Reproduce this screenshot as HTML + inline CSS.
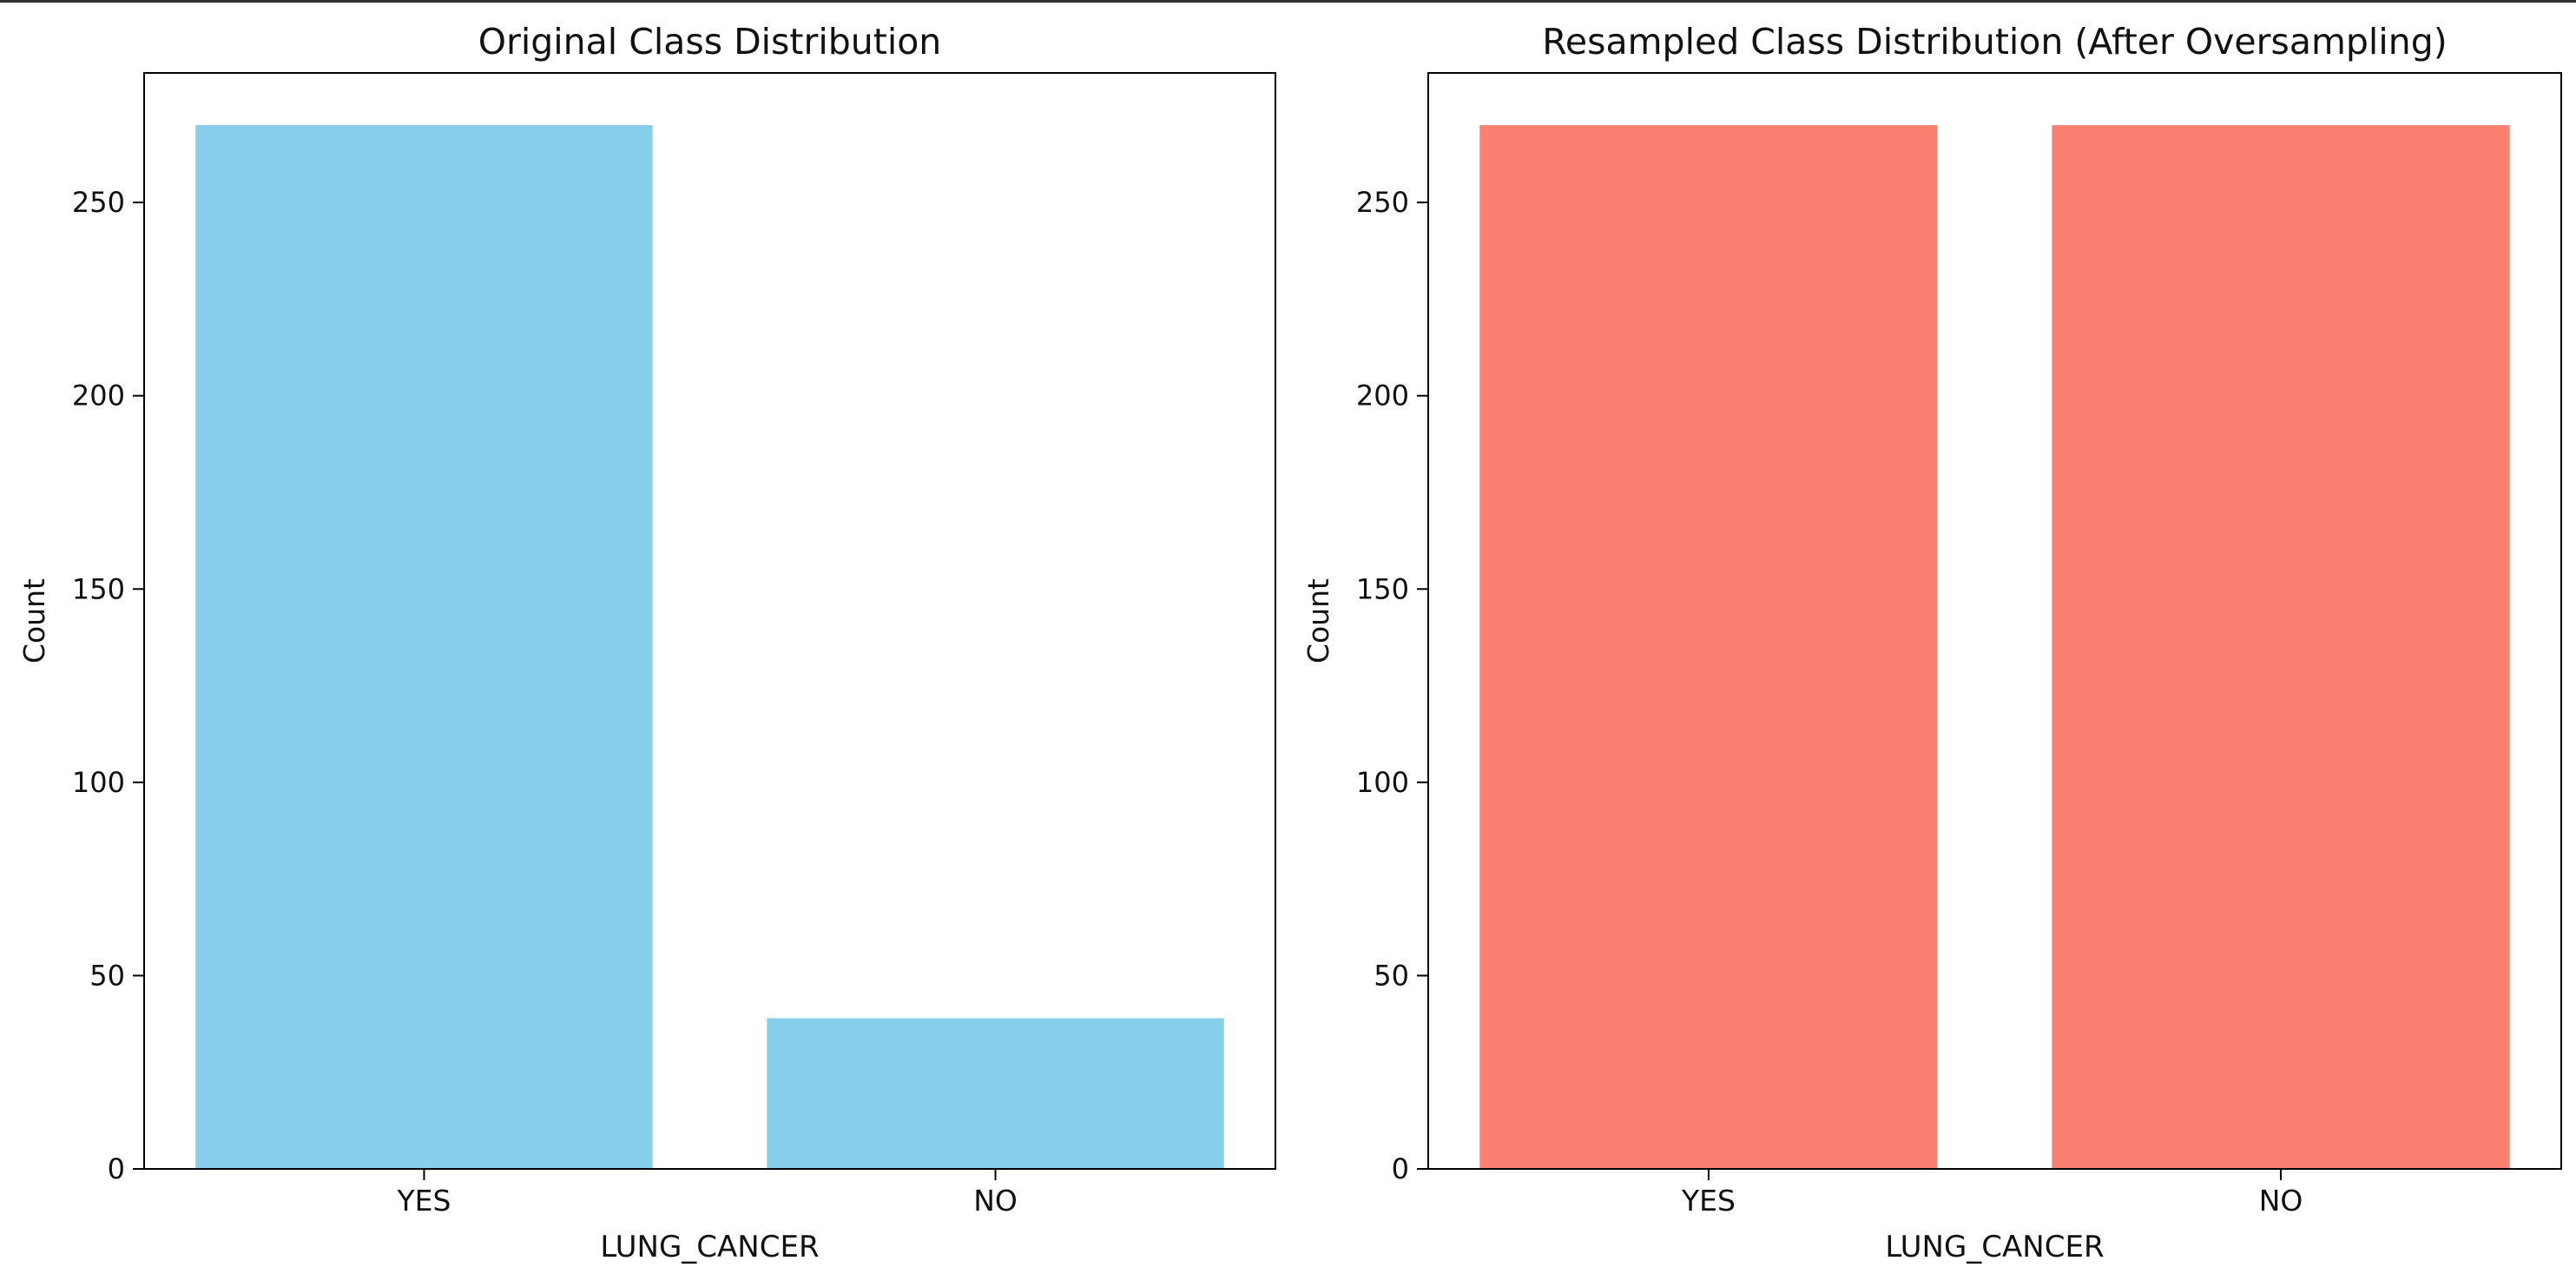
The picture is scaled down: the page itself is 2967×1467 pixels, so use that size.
<!DOCTYPE html>
<html><head><meta charset="utf-8"><style>
html,body{margin:0;padding:0;background:#fff;}
svg{display:block;font-family:"DejaVu Sans","Liberation Sans",sans-serif;}
</style></head><body>
<svg id="fig" width="2967" height="1467" viewBox="0 0 2967 1467" xmlns="http://www.w3.org/2000/svg">
<rect x="0" y="0" width="2967" height="1467" fill="#fff"/>
<rect x="0" y="0" width="2967" height="3" fill="#333"/>
</svg>
<script>
const categories = ["YES", "NO"];
const originalCounts = [270, 39];
const resampledCounts = [270, 270];
const yTicks = [0, 50, 100, 150, 200, 250];
const titles = ["Original Class Distribution", "Resampled Class Distribution (After Oversampling)"];
const NS = "http://www.w3.org/2000/svg";
const svg = document.getElementById("fig");
function mk(tag, attrs, parent) {
  const e = document.createElementNS(NS, tag);
  for (const k in attrs) e.setAttribute(k, attrs[k]);
  (parent || svg).appendChild(e);
  return e;
}
function drawPanel(idx, left, right, counts, color, title) {
  const top = 84, bottom = 1346;
  const g = mk("g", {});
  
  
  const ymax = 283.5;
  const xmin = -0.49, xmax = 1.49;
  const xs = v => left + (v - xmin) / (xmax - xmin) * (right - left);
  const ys = v => bottom - v / ymax * (bottom - top);
  counts.forEach((c, i) => {
    const r = mk("rect", {x: xs(i - 0.4), y: ys(c), width: xs(i + 0.4) - xs(i - 0.4), height: ys(0) - ys(c), fill: color}, g);
    
    
  });
  const frame = mk("rect", {x: left, y: top, width: right - left, height: bottom - top, fill: "none", stroke: "#000", "stroke-width": 2}, g);
  
  
  yTicks.forEach(t => {
    const y = ys(t);
    const l = mk("line", {x1: left - 13, x2: left, y1: y, y2: y, stroke: "#000", "stroke-width": 2}, g);
    
    
    const tx = mk("text", {x: left - 22, y: y + 11, "font-size": 32, "text-anchor": "end", fill: "#111"}, g);
    tx.textContent = t;
    
    
  });
  categories.forEach((c, i) => {
    const x = xs(i);
    const l = mk("line", {x1: x, x2: x, y1: bottom, y2: bottom + 13, stroke: "#000", "stroke-width": 2}, g);
    
    
    const tx = mk("text", {x: x, y: bottom + 48, "font-size": 33, "text-anchor": "middle", fill: "#111"}, g);
    tx.textContent = c;
    
    
  });
  const xl = mk("text", {x: (left + right) / 2, y: 1447, "font-size": 34, "text-anchor": "middle", fill: "#111"}, g);
  xl.textContent = "LUNG_CANCER";
  
  
  const cy = (top + bottom) / 2;
  const yl = mk("text", {x: left - 115, y: cy, "font-size": 33, "text-anchor": "middle", fill: "#111", transform: "rotate(-90 " + (left - 115) + " " + cy + ")"}, g);
  yl.textContent = "Count";
  
  
  const tt = mk("text", {x: (left + right) / 2, y: 62, "font-size": 41, "text-anchor": "middle", fill: "#111"}, g);
  tt.textContent = title;
  
  
}
drawPanel(0, 166, 1469, originalCounts, "#87CEEB", titles[0]);
drawPanel(1, 1645, 2950, resampledCounts, "#FA8072", titles[1]);
</script>
</body></html>
